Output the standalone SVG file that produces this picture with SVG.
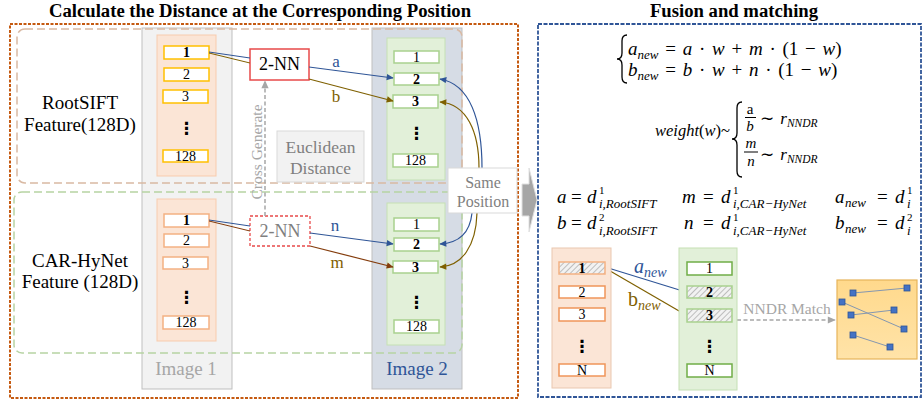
<svg xmlns="http://www.w3.org/2000/svg" width="923" height="402" viewBox="0 0 923 402">
<style>
.ttl{font-family:"Liberation Serif","Times New Roman",serif;font-weight:bold;font-size:18.7px;text-anchor:middle;fill:#000}
.lbl{font-family:"Liberation Serif","Times New Roman",serif;font-size:19px;text-anchor:middle;fill:#000}
.num{font-family:"Liberation Serif","Times New Roman",serif;font-size:14px;text-anchor:middle;fill:#000}
.bd{font-weight:bold}
.dots{font-family:"DejaVu Sans",sans-serif;font-size:17px;font-weight:bold;text-anchor:middle;fill:#000}
.cy{fill:#fff;stroke:#FFC000;stroke-width:1.5}
.co{fill:#fff;stroke:#F4B183;stroke-width:1.5}
.cg{fill:#fff;stroke:#A9D18E;stroke-width:1.5}
.co2{fill:#fff;stroke:#F0955A;stroke-width:1.5}
.cg2{fill:#fff;stroke:#70AD47;stroke-width:1.5}
.m{font-family:"Liberation Serif","Times New Roman",serif;font-style:italic;font-size:19px;fill:#000;word-spacing:2px}
.sub{font-family:"Liberation Serif","Times New Roman",serif;font-style:italic;font-size:13px;fill:#000}
.sup{font-family:"Liberation Serif","Times New Roman",serif;font-size:11px;fill:#000}
.fr{font-family:"Liberation Serif","Times New Roman",serif;font-style:italic;font-size:15px;fill:#000;text-anchor:middle}
.u{font-style:normal}
.br{fill:none;stroke:#000;stroke-width:1.3}
</style>
<defs>
<marker id="ab" viewBox="0 0 10 10" refX="9" refY="5" markerWidth="8" markerHeight="7" orient="auto" markerUnits="userSpaceOnUse"><path d="M0,0.5 L10,5 L0,9.5 z" fill="#2F5597"/></marker>
<marker id="aw" viewBox="0 0 10 10" refX="9" refY="5" markerWidth="8" markerHeight="7" orient="auto" markerUnits="userSpaceOnUse"><path d="M0,0.5 L10,5 L0,9.5 z" fill="#7F6000"/></marker>
<marker id="ar" viewBox="0 0 10 10" refX="9" refY="5" markerWidth="8" markerHeight="7" orient="auto" markerUnits="userSpaceOnUse"><path d="M0,0.5 L10,5 L0,9.5 z" fill="#843C0C"/></marker>
<marker id="ag" viewBox="0 0 10 10" refX="9" refY="5" markerWidth="9" markerHeight="8" orient="auto" markerUnits="userSpaceOnUse"><path d="M0,0.5 L10,5 L0,9.5 z" fill="#A6A6A6"/></marker>
<pattern id="hatch" width="4" height="4" patternUnits="userSpaceOnUse" patternTransform="rotate(45)"><rect width="4" height="4" fill="#F2F2F2"/><line x1="0" y1="0" x2="0" y2="4" stroke="#9A9A9A" stroke-width="1.2"/></pattern>
<linearGradient id="yg" x1="0" y1="0" x2="0" y2="1"><stop offset="0" stop-color="#FFD98C"/><stop offset="1" stop-color="#FFE3A8"/></linearGradient>
</defs>

<text class="ttl" x="260" y="17">Calculate the Distance at the Corresponding Position</text>
<text class="ttl" x="734" y="17">Fusion and matching</text>

<g id="left-panel">
<rect x="10" y="24" width="508" height="374" fill="none" stroke="#C55A11" stroke-width="2" stroke-dasharray="3,1.5"/>
</g>
<g id="right-panel">
<rect x="538" y="24" width="383" height="373" fill="none" stroke="#2F5597" stroke-width="1.8" stroke-dasharray="4,1.5"/>
</g>

<g id="image1">
<rect x="142" y="28" width="90" height="361" fill="#F2F2F2" stroke="#BFBFBF" stroke-width="1"/>
<text class="lbl" x="186" y="375" style="font-size:19px;fill:#A6A6A6">Image 1</text>
</g>
<g id="image2">
<rect x="372" y="28" width="90" height="361" fill="#D6DCE5" stroke="#BFBFBF" stroke-width="1"/>
<text class="lbl" x="417" y="375" style="font-size:19px;fill:#2F5597">Image 2</text>
</g>

<g id="rootsift-group">
<rect x="17" y="29" width="445" height="154" rx="8" fill="none" stroke="#D9B9A3" stroke-width="1.5" stroke-dasharray="8,4"/>
<text class="lbl" x="80" y="109">RootSIFT</text>
<text class="lbl" x="80" y="131">Feature(128D)</text>
</g>
<g id="carhynet-group">
<rect x="14" y="192" width="448" height="161" rx="8" fill="none" stroke="#B7D3A3" stroke-width="1.5" stroke-dasharray="8,4"/>
<text class="lbl" x="80" y="267">CAR-HyNet</text>
<text class="lbl" x="80" y="288">Feature (128D)</text>
</g>

<g id="img1-rootsift">
<rect x="157" y="35" width="59" height="141" fill="#FBE5D6" stroke="#F8CBAD" stroke-width="1"/>
<rect class="cy" x="164" y="46" width="45" height="13"/><text class="num bd" x="186.5" y="57">1</text>
<rect class="cy" x="164" y="68" width="45" height="13"/><text class="num" x="186.5" y="79">2</text>
<rect class="cy" x="163" y="90" width="45" height="13"/><text class="num" x="185.5" y="101">3</text>
<text class="dots" x="186.5" y="134">⋮</text>
<rect class="cy" x="163" y="150" width="45" height="12"/><text class="num" x="185.5" y="161">128</text>
</g>
<g id="img1-carhynet">
<rect x="157" y="199" width="59" height="142" fill="#FBE5D6" stroke="#F8CBAD" stroke-width="1"/>
<rect class="co" x="164" y="214" width="45" height="13"/><text class="num bd" x="186.5" y="225">1</text>
<rect class="co" x="164" y="234" width="45" height="13"/><text class="num" x="186.5" y="245">2</text>
<rect class="co" x="163" y="257" width="45" height="12"/><text class="num" x="185.5" y="268">3</text>
<text class="dots" x="186.5" y="303">⋮</text>
<rect class="co" x="163" y="316" width="46" height="13"/><text class="num" x="186" y="327">128</text>
</g>
<g id="img2-rootsift">
<rect x="387" y="38" width="58" height="142" fill="#E2F0D9" stroke="#C5E0B4" stroke-width="1"/>
<rect class="cg" x="394" y="51" width="45" height="12"/><text class="num" x="416.5" y="62">1</text>
<rect class="cg" x="394" y="73" width="45" height="12"/><text class="num bd" x="416.5" y="84">2</text>
<rect class="cg" x="393" y="95" width="45" height="13"/><text class="num bd" x="415.5" y="106">3</text>
<text class="dots" x="416.5" y="139">⋮</text>
<rect class="cg" x="393" y="154" width="45" height="13"/><text class="num" x="415.5" y="165">128</text>
</g>
<g id="img2-carhynet">
<rect x="387" y="203" width="58" height="142" fill="#E2F0D9" stroke="#C5E0B4" stroke-width="1"/>
<rect class="cg" x="394" y="218" width="45" height="13"/><text class="num" x="416.5" y="229">1</text>
<rect class="cg" x="394" y="238" width="45" height="13"/><text class="num bd" x="416.5" y="249">2</text>
<rect class="cg" x="393" y="261" width="45" height="12"/><text class="num bd" x="415.5" y="272">3</text>
<text class="dots" x="416.5" y="308">⋮</text>
<rect class="cg" x="394" y="320" width="45" height="13"/><text class="num" x="416.5" y="331">128</text>
</g>

<g id="nn-top">
<rect x="250" y="49" width="59" height="31" fill="#fff" stroke="#E84A4A" stroke-width="1.5"/>
<text class="lbl" x="279.5" y="70" style="font-size:18px">2-NN</text>
</g>
<g id="nn-bottom">
<rect x="250" y="216" width="60" height="30" fill="#fff" stroke="#E84A4A" stroke-width="1.3" stroke-dasharray="3,2"/>
<text class="lbl" x="280" y="237" style="font-size:18px;fill:#7F7F7F">2-NN</text>
</g>

<g id="euclidean">
<rect x="277" y="131" width="87" height="51" fill="#F2F2F2" stroke="#D9D9D9" stroke-width="1"/>
<text class="lbl" x="320.5" y="153" style="font-size:17.5px;fill:#7F7F7F">Euclidean</text>
<text class="lbl" x="320.5" y="174" style="font-size:17.5px;fill:#7F7F7F">Distance</text>
</g>

<g id="connectors">
<line x1="209" y1="52" x2="250" y2="58" stroke="#2F5597" stroke-width="1"/>
<line x1="209" y1="53" x2="250" y2="63" stroke="#7F6000" stroke-width="1"/>
<line x1="309" y1="67" x2="393" y2="78" stroke="#2F5597" stroke-width="1.2" marker-end="url(#ab)"/>
<line x1="309" y1="79" x2="393" y2="101" stroke="#7F6000" stroke-width="1.2" marker-end="url(#aw)"/>
<line x1="209" y1="220" x2="250" y2="226" stroke="#2F5597" stroke-width="1"/>
<line x1="209" y1="221" x2="250" y2="231" stroke="#843C0C" stroke-width="1"/>
<line x1="310" y1="233" x2="393" y2="244" stroke="#2F5597" stroke-width="1.2" marker-end="url(#ab)"/>
<line x1="310" y1="246" x2="393" y2="267" stroke="#843C0C" stroke-width="1.2" marker-end="url(#ar)"/>
<line x1="265" y1="216" x2="265" y2="81" stroke="#A6A6A6" stroke-width="1.5" stroke-dasharray="4,2.5" marker-end="url(#ag)"/>
<path d="M482 168 C482 120 470 84 440 79" fill="none" stroke="#2F5597" stroke-width="1.2" marker-end="url(#ab)"/>
<path d="M479 168 C479 132 467 104 440 102" fill="none" stroke="#7F6000" stroke-width="1.2" marker-end="url(#aw)"/>
<path d="M472 213 C470 232 460 243 440 244" fill="none" stroke="#2F5597" stroke-width="1.2" marker-end="url(#ab)"/>
<path d="M477 213 C476 246 462 266 440 267" fill="none" stroke="#7F6000" stroke-width="1.2" marker-end="url(#aw)"/>
<line x1="605" y1="267" x2="686" y2="292" stroke="#2F5597" stroke-width="1.2" marker-end="url(#ab)"/>
<line x1="605" y1="268" x2="686" y2="315" stroke="#7F6000" stroke-width="1.2" marker-end="url(#aw)"/>
<line x1="737" y1="320" x2="835" y2="320" stroke="#A6A6A6" stroke-width="1.5" stroke-dasharray="4,2.5" marker-end="url(#ag)"/>
<text class="lbl" x="336" y="67" style="font-size:17px;fill:#2F5597">a</text>
<text class="lbl" x="336" y="102" style="font-size:17px;fill:#7F6000">b</text>
<text class="lbl" x="335" y="231" style="font-size:17px;fill:#2F5597">n</text>
<text class="lbl" x="337" y="268" style="font-size:17px;fill:#7F6000">m</text>
<text class="lbl" transform="translate(262 152) rotate(-90)" style="font-size:15.5px;fill:#A6A6A6">Cross Generate</text>
<text class="m" x="634" y="273" style="fill:#2F5597;font-size:20px">a<tspan dy="4" style="font-size:14px">new</tspan></text>
<text class="m" x="628" y="306" style="fill:#7F6000;font-size:20px"><tspan class="u">b</tspan><tspan dy="4" style="font-size:14px">new</tspan></text>
<text class="lbl" x="787" y="314" style="font-size:15.5px;fill:#A6A6A6">NNDR Match</text>
</g>

<g id="same-position">
<rect x="448" y="168" width="69" height="45" fill="#fff" stroke="#D9D9D9" stroke-width="1"/>
<text class="lbl" x="483" y="188" style="font-size:16px;fill:#7F7F7F">Same</text>
<text class="lbl" x="483" y="207" style="font-size:16px;fill:#7F7F7F">Position</text>
</g>

<g id="transfer-arrow">
<polygon points="522,184 529,184 529,168 537,200 529,232 529,216 522,216" fill="#A6A6A6" stroke="#E0E0E0" stroke-width="1"/>
</g>

<g id="formulas">
<path class="br" d="M627 35 Q622 35 622 41 L622 53 Q622 59 617 59 Q622 59 622 65 L622 77 Q622 83 627 83"/>
<text class="m" x="628" y="55">a<tspan dy="4" style="font-size:13px">new</tspan><tspan class="u" dy="-4"> = </tspan>a<tspan class="u"> · </tspan>w<tspan class="u"> + </tspan>m<tspan class="u"> · (1 − </tspan>w<tspan class="u">)</tspan></text>
<text class="m" x="628" y="76">b<tspan dy="4" style="font-size:13px">new</tspan><tspan class="u" dy="-4"> = </tspan>b<tspan class="u"> · </tspan>w<tspan class="u"> + </tspan>n<tspan class="u"> · (1 − </tspan>w<tspan class="u">)</tspan></text>

<text class="m" x="655" y="136" style="word-spacing:0;font-size:16.5px">weight<tspan class="u">(</tspan>w<tspan class="u">)~</tspan></text>
<path class="br" d="M742 102 Q737 102 737 108 L737 133 Q737 139 732 139 Q737 139 737 145 L737 171 Q737 177 742 177"/>
<text class="fr" x="750" y="114" style="font-style:normal">a</text>
<line x1="745" y1="117.5" x2="756" y2="117.5" stroke="#000" stroke-width="1"/>
<text class="fr" x="750" y="131">b</text>
<text class="m" x="760" y="124" style="font-size:17px"><tspan class="u">∼ </tspan>r<tspan dy="3" style="font-size:11.5px">NNDR</tspan></text>
<text class="fr" x="751" y="148">m</text>
<line x1="744" y1="152" x2="758" y2="152" stroke="#000" stroke-width="1"/>
<text class="fr" x="751" y="166">n</text>
<text class="m" x="760" y="160" style="font-size:17px"><tspan class="u">∼ </tspan>r<tspan dy="3" style="font-size:11.5px">NNDR</tspan></text>

<text class="m" y="203"><tspan x="557">a</tspan><tspan class="u" x="571">=</tspan><tspan x="587">d</tspan></text>
<text class="sup" x="599" y="194">1</text><text class="sub" x="599" y="208">i,RootSIFT</text>
<text class="m" y="203"><tspan x="682">m</tspan><tspan class="u" x="703">=</tspan><tspan x="721">d</tspan></text>
<text class="sup" x="733" y="194">1</text><text class="sub" x="733" y="208">i,CAR−HyNet</text>
<text class="m" y="203"><tspan x="835">a</tspan><tspan x="845" dy="4" style="font-size:13px">new</tspan><tspan class="u" x="877" dy="-4">=</tspan><tspan x="895">d</tspan></text>
<text class="sup" x="907" y="194">1</text><text class="sub" x="907" y="208">i</text>

<text class="m" y="229"><tspan x="557">b</tspan><tspan class="u" x="571">=</tspan><tspan x="587">d</tspan></text>
<text class="sup" x="599" y="221">2</text><text class="sub" x="599" y="235">i,RootSIFT</text>
<text class="m" y="229"><tspan x="684">n</tspan><tspan class="u" x="703">=</tspan><tspan x="721">d</tspan></text>
<text class="sup" x="733" y="221">1</text><text class="sub" x="733" y="235">i,CAR−HyNet</text>
<text class="m" y="229"><tspan x="835">b</tspan><tspan x="845" dy="4" style="font-size:13px">new</tspan><tspan class="u" x="877" dy="-4">=</tspan><tspan x="895">d</tspan></text>
<text class="sup" x="907" y="221">2</text><text class="sub" x="907" y="235">i</text>
</g>

<g id="query-column">
<rect x="552" y="248" width="59" height="140" fill="#FBE5D6" stroke="#E9C7B0" stroke-width="1"/>
<rect x="559" y="262" width="46" height="12" fill="url(#hatch)" stroke="#F4B183" stroke-width="1.5"/><text class="num bd" x="582" y="273">1</text>
<rect class="co2" x="559" y="286" width="46" height="12"/><text class="num" x="582" y="297">2</text>
<rect class="co2" x="559" y="308" width="46" height="13"/><text class="num" x="582" y="319">3</text>
<text class="dots" x="582" y="352">⋮</text>
<rect class="co2" x="559" y="364" width="46" height="12"/><text class="num" x="582" y="375">N</text>
</g>
<g id="train-column">
<rect x="679" y="248" width="58" height="142" fill="#E2F0D9" stroke="#C5E0B4" stroke-width="1"/>
<rect class="cg2" x="687" y="262" width="45" height="13"/><text class="num" x="709.5" y="273">1</text>
<rect x="687" y="286" width="45" height="12" fill="url(#hatch)" stroke="#A9D18E" stroke-width="1.5"/><text class="num bd" x="709.5" y="297">2</text>
<rect x="687" y="309" width="45" height="13" fill="url(#hatch)" stroke="#A9D18E" stroke-width="1.5"/><text class="num bd" x="709.5" y="320">3</text>
<text class="dots" x="709.5" y="352">⋮</text>
<rect class="cg2" x="687" y="364" width="45" height="13"/><text class="num" x="709.5" y="375">N</text>
</g>

<g id="match-result">
<rect x="837" y="280" width="80" height="79" fill="url(#yg)" stroke="#E6B45A" stroke-width="1.2"/>
<g stroke="#8497B0" stroke-width="1">
<line x1="853" y1="293" x2="907" y2="288"/>
<line x1="842" y1="302" x2="904" y2="329"/>
<line x1="851" y1="315" x2="894" y2="310"/>
<line x1="853" y1="335" x2="890" y2="347"/>
</g>
<g fill="#4472C4" stroke="#2F5597" stroke-width="0.8">
<rect x="850" y="290" width="6" height="6"/><rect x="904" y="285" width="6" height="6"/>
<rect x="839" y="299" width="6" height="6"/><rect x="901" y="326" width="6" height="6"/>
<rect x="848" y="312" width="6" height="6"/><rect x="891" y="307" width="6" height="6"/>
<rect x="850" y="332" width="6" height="6"/><rect x="887" y="344" width="6" height="6"/>
</g>
</g>
</svg>
